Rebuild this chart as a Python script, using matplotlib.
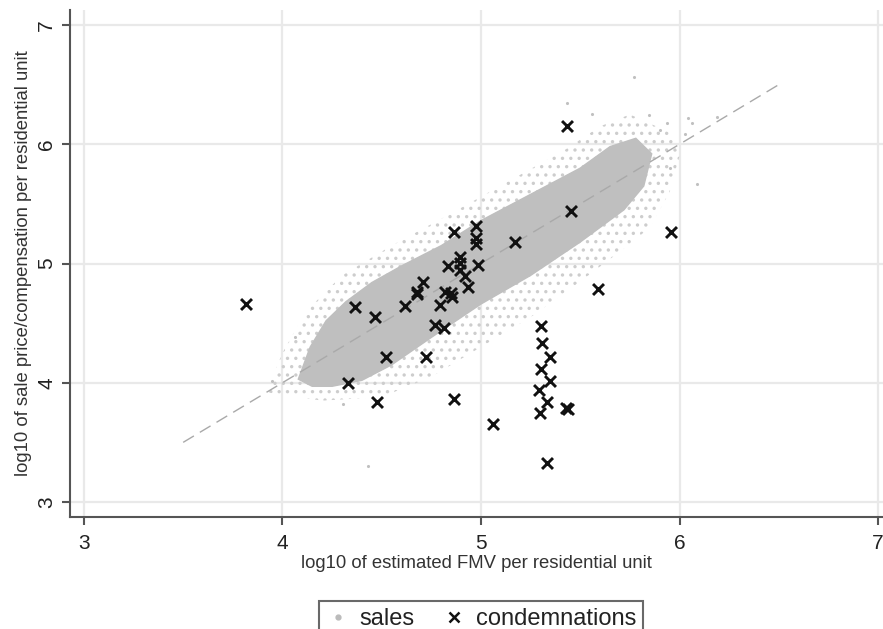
import matplotlib
matplotlib.use("Agg")
import matplotlib.pyplot as plt
from matplotlib.lines import Line2D
from matplotlib.patches import Polygon

plt.rcParams['font.family'] = ['Liberation Sans', 'DejaVu Sans']
plt.rcParams['hatch.linewidth'] = 1.2

# condemnations (log10 FMV, log10 compensation)
cond_x = [5.434, 5.456, 5.169, 4.974, 4.974, 4.974, 4.866, 4.893, 4.893, 4.893,
          4.987, 4.836, 4.920, 4.937, 4.709, 4.678, 4.678, 4.818, 4.851, 4.856,
          4.793, 4.619, 4.365, 4.465, 4.767, 4.813, 4.521, 4.721, 5.300, 5.308,
          5.347, 5.300, 5.588, 5.959, 3.816, 4.331, 4.475, 4.866, 5.063, 5.347,
          5.293, 5.335, 5.296, 5.430, 5.438, 5.335]
cond_y = [6.156, 5.443, 5.183, 5.317, 5.211, 5.161, 5.262, 5.058, 5.002, 4.946,
          4.984, 4.976, 4.895, 4.805, 4.845, 4.758, 4.741, 4.758, 4.750, 4.721,
          4.654, 4.646, 4.638, 4.554, 4.484, 4.462, 4.219, 4.219, 4.478, 4.331,
          4.213, 4.113, 4.786, 5.267, 4.658, 3.995, 3.841, 3.864, 3.657, 4.015,
          3.939, 3.836, 3.744, 3.786, 3.780, 3.324]

# sales: dense core outline, sparse fringe outline, isolated outliers
core_x = [4.08, 4.14, 4.22, 4.32, 4.45, 4.60, 4.80, 5.00, 5.25, 5.50, 5.65, 5.78, 5.86,
          5.82, 5.72, 5.50, 5.25, 5.00, 4.75, 4.55, 4.40, 4.25, 4.15]
core_y = [4.03, 4.30, 4.52, 4.68, 4.84, 4.98, 5.15, 5.36, 5.58, 5.80, 5.98, 6.05, 5.92,
          5.65, 5.45, 5.18, 4.90, 4.66, 4.38, 4.15, 4.02, 3.97, 3.97]
fringe_x = [3.92, 4.00, 4.12, 4.30, 4.55, 4.85, 5.15, 5.42, 5.60, 5.75, 5.95,
            6.00, 5.95, 5.85, 5.70, 5.50, 5.25, 5.00, 4.75, 4.50, 4.20]
fringe_y = [3.92, 4.25, 4.60, 4.90, 5.15, 5.42, 5.70, 5.95, 6.15, 6.25, 6.10,
            5.90, 5.60, 5.30, 5.10, 4.85, 4.55, 4.30, 4.05, 3.88, 3.85]
out_x = [5.769, 5.432, 5.558, 5.845, 6.041, 6.187, 5.936, 6.061, 6.026, 5.900,
         6.087, 5.951, 4.430, 4.304, 3.947, 4.062]
out_y = [6.564, 6.346, 6.254, 6.245, 6.220, 6.228, 6.178, 6.178, 6.086, 6.119,
         5.667, 5.801, 3.300, 3.822, 4.015, 4.384]

ref_x = [3.5, 6.5]
ref_y = [3.5, 6.5]

ticks = [3, 4, 5, 6, 7]

fig = plt.figure(figsize=(8.83, 6.29), dpi=100)
ax = fig.add_axes([70/883, (629-517)/629, (883-70)/883, (517-10)/629])
ax.set_xlim(2.93, 7.025)
ax.set_ylim(2.874, 7.126)

gray_cloud = '#bfbfbf'
ax.add_patch(Polygon(list(zip(fringe_x, fringe_y)), closed=True, facecolor='none',
                     edgecolor='#cdcdcd', hatch='..', linewidth=0, zorder=2))
ax.add_patch(Polygon(list(zip(core_x, core_y)), closed=True, facecolor=gray_cloud,
                     edgecolor=gray_cloud, linewidth=1, zorder=3))
ax.scatter(out_x, out_y, s=5, color='#c0c0c0', zorder=3, linewidths=0)

ax.plot(ref_x, ref_y, color='#a9a9a9', lw=1.0, dashes=(9, 5), zorder=4)

ax.scatter(cond_x, cond_y, marker='x', s=62, color='#111111', linewidths=2.1, zorder=5)

ax.set_xticks(ticks)
ax.set_yticks(ticks)
ax.set_xticklabels([str(t) for t in ticks], fontsize=15)
ax.set_yticklabels([str(t) for t in ticks], fontsize=15, rotation=90, va='center')
ax.grid(True, color='#e9e9e9', lw=1.6, zorder=0)
ax.set_axisbelow(True)
for s in ['top', 'right']:
    ax.spines[s].set_visible(False)
for s in ['left', 'bottom']:
    ax.spines[s].set_color('#555555')
    ax.spines[s].set_linewidth(1.5)
ax.tick_params(axis='both', colors='#555555', length=6, width=1.5, labelcolor='#222222')
ax.tick_params(axis='x', pad=6)
ax.tick_params(axis='y', pad=4)

ax.set_xlabel('log10 of estimated FMV per residential unit', fontsize=13.3, color='#333333', labelpad=2)
ax.set_ylabel('log10 of sale price/compensation per residential unit', fontsize=13.3, color='#333333', labelpad=4)

handles = [Line2D([], [], marker='o', ls='none', color='#bbbbbb', markersize=3.5),
           Line2D([], [], marker='x', ls='none', color='#111111', markersize=7, markeredgewidth=1.8)]
leg = fig.legend(handles, ['sales', 'condemnations'], loc='upper center',
                 bbox_to_anchor=(481/883, (629-589)/629), ncol=2, fontsize=17,
                 frameon=True, fancybox=False, edgecolor='#444444', handletextpad=0.4,
                 columnspacing=1.2, handlelength=1.0, borderpad=0.3)
leg.get_frame().set_linewidth(1.5)
for t in leg.get_texts():
    t.set_color('#222222')

fig.savefig('out.png', dpi=100)
